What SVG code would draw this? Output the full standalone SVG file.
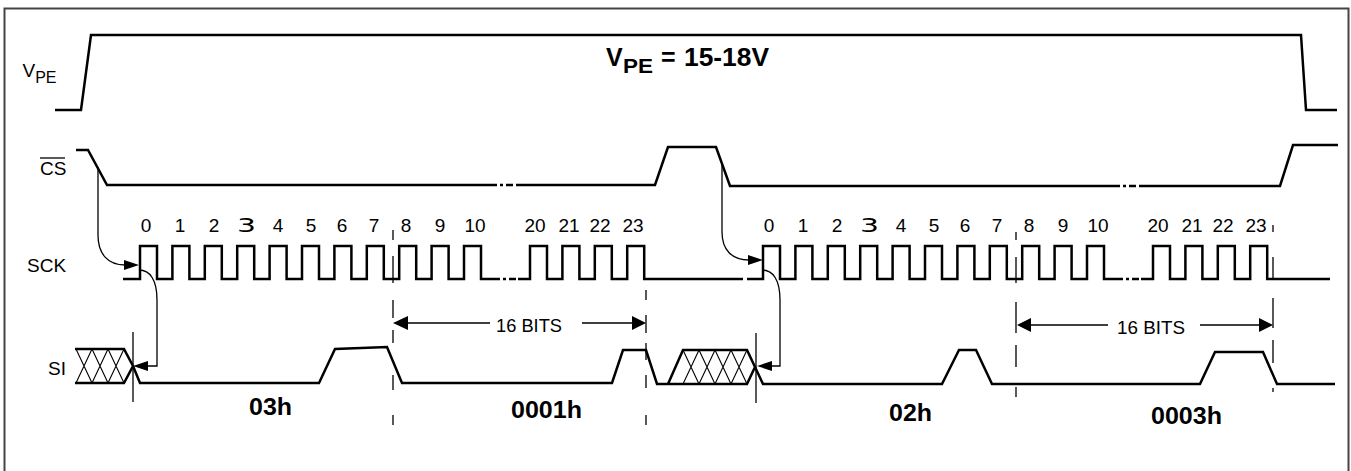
<svg xmlns="http://www.w3.org/2000/svg" width="1351" height="471" viewBox="0 0 1351 471">
<style>
.frame{fill:none;stroke:#444;stroke-width:2}
.sig{fill:none;stroke:#000;stroke-width:2.5;stroke-linejoin:miter}
.dots{fill:none;stroke:#000;stroke-width:2.5;stroke-dasharray:7 3 3 3}
.thin{fill:none;stroke:#000;stroke-width:1.3}
.dash{fill:none;stroke:#000;stroke-width:1.3}
.hatch{fill:none;stroke:#000;stroke-width:1.1}
.ah{fill:#000;stroke:none}
.lbl{font-family:"Liberation Sans",Arial,sans-serif;font-size:19px;fill:#000}
.num{font-family:"Liberation Sans",Arial,sans-serif;font-size:19px;fill:#000;text-anchor:middle}
.b{font-family:"Liberation Sans",Arial,sans-serif;font-weight:bold;fill:#000}
</style>
<rect x="0" y="0" width="1351" height="471" fill="#fff"/>
<rect class="frame" x="4.5" y="8.5" width="1344" height="475"/>

<g id="vpe">
<path class="sig" d="M55,110 H81 L91,35 H1301 L1306,110 H1337"/>
<text class="lbl" x="22.5" y="77">V<tspan font-size="16" dy="6">PE</tspan></text>
<text class="b" x="606" y="66" font-size="25">V</text>
<text class="b" x="623" y="73" font-size="21" textLength="30" lengthAdjust="spacingAndGlyphs">PE</text>
<text class="b" x="661" y="66" font-size="25">=</text>
<text class="b" x="684" y="66" font-size="25" textLength="85" lengthAdjust="spacingAndGlyphs">15-18V</text>
</g>

<g id="cs">
<path class="sig" d="M76,150 H88 L107,185 H490"/>
<path class="dots" d="M490,185 H517"/>
<path class="sig" d="M517,185 H655 L668,147 H716 L730,186 H1113"/>
<path class="dots" d="M1113,186 H1140"/>
<path class="sig" d="M1140,186 H1280 L1293,145 H1338"/>
<text class="lbl" x="40" y="175" font-size="19">CS</text>
<line x1="40" y1="158" x2="65" y2="158" stroke="#000" stroke-width="1.3"/>
</g>

<g id="sck">
<path class="sig" d="M123,279 H140 V246 H157 V279 H172.4 V246 H189.4 V279 H204.8 V246 H221.8 V279 H237.2 V246 H254.2 V279 H269.6 V246 H286.6 V279 H302 V246 H319 V279 H334.4 V246 H351.4 V279 H366.8 V246 H383.8 V279 H399.2 V246 H416.2 V279 H431.6 V246 H448.6 V279 H464 V246 H481 V279 H493"/>
<path class="dots" d="M493,279 H518"/>
<path class="sig" d="M518,279 H530 V246 H547 V279 H562.4 V246 H579.4 V279 H594.8 V246 H611.8 V279 H627.2 V246 H644.2 V279 H743"/>
<path class="sig" d="M747,279 H763 V246 H780 V279 H795.4 V246 H812.4 V279 H827.8 V246 H844.8 V279 H860.2 V246 H877.2 V279 H892.6 V246 H909.6 V279 H925 V246 H942 V279 H957.4 V246 H974.4 V279 H989.8 V246 H1006.8 V279 H1022.2 V246 H1039.2 V279 H1054.6 V246 H1071.6 V279 H1087 V246 H1104 V279 H1116"/>
<path class="dots" d="M1116,279 H1141"/>
<path class="sig" d="M1141,279 H1153 V246 H1170 V279 H1185.4 V246 H1202.4 V279 H1217.8 V246 H1234.8 V279 H1250.2 V246 H1267.2 V279 H1330"/>
<text class="lbl" x="27" y="272">SCK</text>
<g class="num">
<text x="146" y="232">0</text><text x="180" y="232">1</text><text x="214" y="232">2</text>
<text x="278" y="232">4</text><text x="311" y="232">5</text><text x="342" y="232">6</text><text x="374" y="232">7</text>
<text x="406" y="232">8</text><text x="440" y="232">9</text><text x="475" y="232">10</text>
<text x="535" y="232">20</text><text x="569" y="232">21</text><text x="600" y="232">22</text><text x="633" y="232">23</text>
<text x="769" y="232">0</text><text x="803" y="232">1</text><text x="837" y="232">2</text>
<text x="901" y="232">4</text><text x="934" y="232">5</text><text x="965" y="232">6</text><text x="997" y="232">7</text>
<text x="1029" y="232">8</text><text x="1063" y="232">9</text><text x="1098" y="232">10</text>
<text x="1158" y="232">20</text><text x="1192" y="232">21</text><text x="1223" y="232">22</text><text x="1256" y="232">23</text>
</g>
<text x="237" y="232" font-family="'DejaVu Sans',sans-serif" font-size="20" textLength="19" lengthAdjust="spacingAndGlyphs">3</text>
<text x="860" y="232" font-family="'DejaVu Sans',sans-serif" font-size="20" textLength="19" lengthAdjust="spacingAndGlyphs">3</text>
</g>

<g id="si">
<path class="sig" d="M75,349 H124 L133,366 L124,383 H75"/>
<path class="hatch" d="M76,349 L92,383 M92,349 L108,383 M108,349 L124,383 M76,383 L92,349 M92,383 L108,349 M108,383 L124,349"/>
<path class="sig" d="M133,366 L140,383 H319 L335,349 L387,347 L402,383 H612 L623,350 H646 L657,384 H668"/>
<path class="sig" d="M668,384 L683,350 H747 L755,367 L747,384 H668"/>
<path class="hatch" d="M683,350 L699,384 M699,350 L715,384 M715,350 L731,384 M731,350 L747,384 M683,384 L699,350 M699,384 L715,350 M715,384 L731,350 M731,384 L747,350"/>
<path class="sig" d="M755,367 L763,384 H942 L959,350 H976 L992,384 H1200 L1215,352 H1263 L1277,384 H1335"/>
<text class="lbl" x="48" y="375">SI</text>
<text class="b" x="249" y="415" font-size="23" textLength="43" lengthAdjust="spacingAndGlyphs">03h</text>
<text class="b" x="511" y="418" font-size="23" textLength="71" lengthAdjust="spacingAndGlyphs">0001h</text>
<text class="b" x="889" y="421" font-size="23" textLength="43" lengthAdjust="spacingAndGlyphs">02h</text>
<text class="b" x="1151" y="424" font-size="23" textLength="71" lengthAdjust="spacingAndGlyphs">0003h</text>
</g>

<g id="connectors">
<path class="thin" d="M98,167 V235 C98,254 108,265 125,265"/>
<polygon class="ah" points="139,265 124,260 124,270"/>
<path class="thin" d="M139,270 C150,270 157,280 157,300 V366 H147"/>
<polygon class="ah" points="133,366 148,361 148,371"/>
<path class="thin" d="M722,164 V232 C722,250 732,260 749,260"/>
<polygon class="ah" points="763,260 748,255 748,265"/>
<path class="thin" d="M762,270 C773,270 780,280 780,300 V366 H771"/>
<polygon class="ah" points="757,366 772,361 772,371"/>
<line class="thin" x1="133" y1="332" x2="133" y2="402"/>
<line class="thin" x1="756" y1="333" x2="756" y2="403"/>
<path class="dash" d="M393,230 V240 M393,256 V283 M393,300 V318 M393,330 V343 M393,375 V390 M393,415 V425"/>
<path class="dash" d="M646,290 V300 M646,315 V333 M646,343 V360 M646,375 V388 M646,415 V425"/>
<path class="dash" d="M1016,232 V240 M1016,257 V283 M1016,302 V333 M1016,345 V367 M1016,387 V397"/>
<path class="dash" d="M1273,225 V232 M1273,257 V280 M1273,298 V328 M1273,340 V363 M1273,388 V392"/>
<path class="thin" d="M406,323 H490 M582,323 H633"/>
<polygon class="ah" points="393,323 408,316 408,330"/>
<polygon class="ah" points="646,323 632,316 632,330"/>
<text class="lbl" x="496" y="332" font-size="21" textLength="66" lengthAdjust="spacingAndGlyphs">16 BITS</text>
<path class="thin" d="M1030,325 H1108 M1200,325 H1260"/>
<polygon class="ah" points="1017,325 1031,318 1031,332"/>
<polygon class="ah" points="1273,325 1259,318 1259,332"/>
<text class="lbl" x="1117" y="334" font-size="21" textLength="68" lengthAdjust="spacingAndGlyphs">16 BITS</text>
</g>
</svg>
